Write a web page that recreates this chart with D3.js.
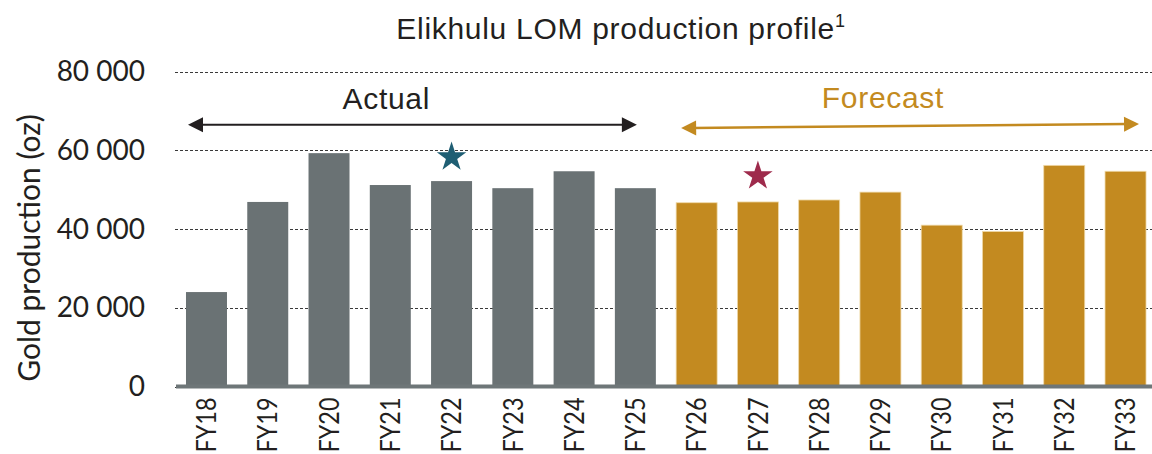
<!DOCTYPE html>
<html><head><meta charset="utf-8">
<script src="https://cdn.jsdelivr.net/npm/d3@7"></script>
<style>body{margin:0;background:#fff} svg{display:block}</style>
</head><body><svg id="c" width="1152" height="454"></svg>
<script>
const categories = ["FY18","FY19","FY20","FY21","FY22","FY23","FY24","FY25","FY26","FY27","FY28","FY29","FY30","FY31","FY32","FY33"];
const values = [24000,46900,59300,51200,52200,50400,54700,50400,46700,46900,47400,49400,41000,39400,56200,54700];
const phases = ["Actual","Actual","Actual","Actual","Actual","Actual","Actual","Actual","Forecast","Forecast","Forecast","Forecast","Forecast","Forecast","Forecast","Forecast"];
const yTicks = [0,20000,40000,60000,80000];
const yTickLabels = ["0","20 000","40 000","60 000","80 000"];
const starCategories = ["FY22","FY27"];
const starValues = [58300,53500];
const spanNames = ["Actual","Forecast"];
const spanFrom = ["FY18","FY26"];
const spanTo = ["FY25","FY33"];
const spanArrowStart = [66530,65690];
const spanArrowEnd = [66530,66710];
const spanLabelValue = [70520,70780];

const colors = {Actual:"#6A7274", Forecast:"#C38A20"};
const starColors = ["#1F5E73","#9E2B4C"];
const spanColors = ["#231F20","#C38A20"];
const textColor = "#231F20";
const tickFont = "Lato, 'Noto Sans', sans-serif";
const arialFont = "'Liberation Sans', Arial, sans-serif";

const svg = d3.select("#c");
const x = d3.scaleBand().domain(categories).range([176,1156]).paddingInner(0.331).paddingOuter(0.163);
const y = d3.scaleLinear().domain([0,80000]).range([386.5,71.7]);

// gridlines + y labels
const yAxis = svg.append("g").attr("transform","translate(175,0)")
  .call(d3.axisLeft(y).tickValues(yTicks).tickFormat((d,i)=>yTickLabels[i]).tickSize(-(1152-175)).tickPadding(30));
yAxis.select(".domain").remove();
yAxis.selectAll(".tick line").attr("stroke","#3a3a3a").attr("stroke-width",1).attr("stroke-dasharray","3,2")
  .attr("shape-rendering","crispEdges");
yAxis.selectAll(".tick text").attr("font-family",tickFont).attr("font-size",28).attr("fill",textColor);

// bars
svg.append("g").selectAll("rect").data(categories).join("rect")
  .attr("x",d=>x(d)).attr("width",x.bandwidth())
  .attr("y",(d,i)=>y(values[i])).attr("height",(d,i)=>y(0)-y(values[i]))
  .attr("fill",(d,i)=>colors[phases[i]])
  .attr("stroke",(d,i)=>phases[i]==="Forecast"?"#EFD9A8":"none").attr("stroke-width",0.8);

// baseline
svg.append("line").attr("x1",176).attr("x2",1152).attr("y1",y(0)).attr("y2",y(0))
  .attr("stroke","#6E7678").attr("stroke-width",4);

// x axis labels
const xAxis = svg.append("g").attr("transform",`translate(0,${y(0)})`)
  .call(d3.axisBottom(x).tickSize(0));
xAxis.select(".domain").remove();
xAxis.selectAll(".tick text").attr("font-family",tickFont).attr("font-size",27).attr("fill",textColor)
  .attr("text-anchor","end").attr("x",0).attr("y",0).attr("dy","0.36em")
  .attr("textLength",55).attr("lengthAdjust","spacingAndGlyphs")
  .attr("transform","translate(0,11) rotate(-90)");

// y axis title
svg.append("text").attr("transform",`translate(40,${(103+393)/2}) rotate(-90)`)
  .attr("text-anchor","middle").attr("font-family",tickFont).attr("font-size",30).attr("fill",textColor)
  .text("Gold production (oz)");

// title
const title = svg.append("text").attr("x",621).attr("y",39).attr("text-anchor","middle")
  .attr("font-family",arialFont).attr("font-size",30).attr("letter-spacing","0.7px").attr("fill",textColor);
title.append("tspan").text("Elikhulu LOM production profile");
title.append("tspan").attr("font-size",18).attr("dy",-12).text("1");

// stars
svg.append("g").selectAll("path").data(starCategories).join("path")
  .attr("d",d3.symbol(d3.symbolStar,270))
  .attr("transform",(d,i)=>`translate(${x(d)+x.bandwidth()/2},${y(starValues[i])})`)
  .attr("fill",(d,i)=>starColors[i]);

// span arrows
const arrowOffsets = [[2,22],[5,34]];
const labelOffsets = [x.bandwidth()/2-4, x.bandwidth()/2+2.5];
const labelAnchorCats = ["FY21","FY29"];
spanNames.forEach((name,i)=>{
  const x1 = x(spanFrom[i])+arrowOffsets[i][0];
  const x2 = x(spanTo[i])+arrowOffsets[i][1];
  const y1 = y(spanArrowStart[i]), y2 = y(spanArrowEnd[i]);
  const g = svg.append("g");
  const L = 15, H = 7.5;
  const ang = Math.atan2(y2-y1,x2-x1);
  const ca = Math.cos(ang), sa = Math.sin(ang);
  g.append("line").attr("x1",x1+L*ca*0.8).attr("y1",y1+L*sa*0.8).attr("x2",x2-L*ca*0.8).attr("y2",y2-L*sa*0.8)
    .attr("stroke",spanColors[i]).attr("stroke-width",i===0?2:2.5);
  const head = (tx,ty,dir)=>{
    const bx = tx - dir*L*ca, by = ty - dir*L*sa;
    return `M${tx},${ty}L${bx - H*sa},${by + H*ca}L${bx + H*sa},${by - H*ca}Z`;
  };
  g.append("path").attr("d",head(x1,y1,-1)).attr("fill",spanColors[i]);
  g.append("path").attr("d",head(x2,y2,1)).attr("fill",spanColors[i]);
  svg.append("text").attr("x",x(labelAnchorCats[i])+labelOffsets[i]).attr("y",y(spanLabelValue[i]))
    .attr("text-anchor","middle").attr("font-family",arialFont).attr("font-size",30).attr("letter-spacing","0.7px")
    .attr("fill",spanColors[i]).text(name);
});
</script></body></html>
